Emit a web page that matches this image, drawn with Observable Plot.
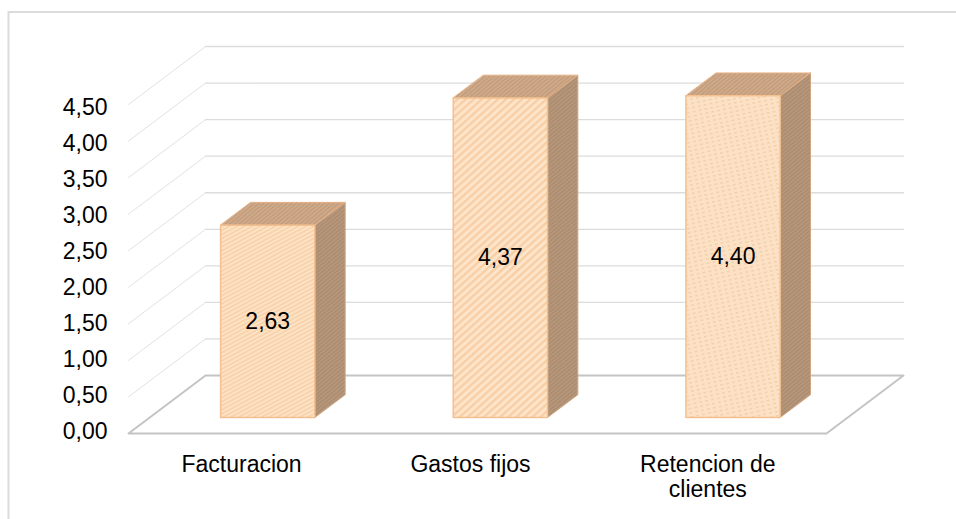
<!DOCTYPE html>
<html><head><meta charset="utf-8">
<script src="https://cdn.jsdelivr.net/npm/d3@7"></script>
<script src="https://cdn.jsdelivr.net/npm/@observablehq/plot@0.6"></script>
<style>html,body{margin:0;padding:0;background:#fff}svg{display:block}</style>
</head><body><div id="chart"></div>
<script>
const categories = ["Facturacion", "Gastos fijos", "Retencion de clientes"];
const categoryLines = [["Facturacion"], ["Gastos fijos"], ["Retencion de", "clientes"]];
const categorySlots = [0.486, 1.47, 2.49];
const values = [2.63, 4.37, 4.40];
const valueLabels = ["2,63", "4,37", "4,40"];
const ticks = [0, 0.5, 1, 1.5, 2, 2.5, 3, 3.5, 4, 4.5];
const tickLabels = ["0,00","0,50","1,00","1,50","2,00","2,50","3,00","3,50","4,00","4,50"];
const patternIds = ["pFine", "pWide", "pDots"];

// Oblique projection, in data units: x in category slots, y in value units
const slots = 3;
const skewX = 0.331, skewY = 0.793;        // shift of the full floor depth
const barWidth = 0.405, barOffset = 0.507;
const depthFront = 0.276, depthBack = 0.67;
const px = (u, d) => u + d * skewX;
const py = (v, d) => v + d * skewY;
const P = (u, v, d) => ({x: px(u, d), y: py(v, d)});

function poly(pts, o) { return Plot.line(pts, {x: "x", y: "y", curve: "linear-closed", ...o}); }

const defs = () => {
  const g = d3.create("svg:defs");
  const add = (id, w, h, rot, bg, draw) => {
    const p = g.append("pattern").attr("id", id).attr("patternUnits", "userSpaceOnUse")
      .attr("width", w).attr("height", h);
    if (rot) p.attr("patternTransform", `rotate(${rot})`);
    p.append("rect").attr("width", w).attr("height", h).attr("fill", bg);
    draw(p);
  };
  add("pFine", 6, 3.6, -28, "#fde3c6", p => p.append("rect").attr("width", 6).attr("height", 1.5).attr("fill", "#f8cfa6"));
  add("pWide", 6, 5.4, -42, "#fee4c9", p => p.append("rect").attr("width", 6).attr("height", 2.4).attr("fill", "#f8cea6"));
  add("pDots", 6, 4.2, -12, "#fde1c5", p => p.append("rect").attr("width", 3).attr("height", 1.4).attr("fill", "#f1cfac"));
  add("pSide", 4, 3, -40, "#b8977a", p => p.append("rect").attr("width", 4).attr("height", 1.2).attr("fill", "#a78a70"));
  add("pTop", 4, 3, -40, "#d2aa88", p => p.append("rect").attr("width", 4).attr("height", 1.2).attr("fill", "#bd9a7c"));
  return g.node();
};

const gridColor = "#dcdcdc", diagColor = "#e2e2e2", floorColor = "#c4c4c4", edge = "#f4c08f";
const marks = [defs];

// back wall gridlines and left wall diagonals
ticks.slice(1).forEach(t => {
  marks.push(Plot.line([P(0, t, 1), P(slots, t, 1)], {x: "x", y: "y", stroke: gridColor, strokeWidth: 1.3}));
  marks.push(Plot.line([P(0, t, 0), P(0, t, 1)], {x: "x", y: "y", stroke: diagColor, strokeWidth: 1}));
});
// floor
marks.push(poly([P(0, 0, 0), P(slots, 0, 0), P(slots, 0, 1), P(0, 0, 1)], {fill: "#fff", stroke: floorColor, strokeWidth: 2}));

// bars
values.forEach((v, i) => {
  const a = i + barOffset - barWidth / 2, b = a + barWidth;
  marks.push(poly([P(b, 0, depthFront), P(b, 0, depthBack), P(b, v, depthBack), P(b, v, depthFront)],
    {fill: "url(#pSide)", stroke: "#cfa682", strokeWidth: 1}));
  marks.push(poly([P(a, v, depthFront), P(b, v, depthFront), P(b, v, depthBack), P(a, v, depthBack)],
    {fill: "url(#pTop)", stroke: "#e6b085", strokeWidth: 1}));
  marks.push(poly([P(a, 0, depthFront), P(b, 0, depthFront), P(b, v, depthFront), P(a, v, depthFront)],
    {fill: `url(#${patternIds[i]})`, stroke: edge, strokeWidth: 1.5}));
});

const font = {fontFamily: "'Liberation Sans', Arial, sans-serif", fontSize: 23, fill: "#000"};
// value axis labels
marks.push(Plot.text(ticks, {x: () => -0.09, y: d => d * 0.985 + 0.03, text: (d, i) => tickLabels[i], textAnchor: "end", ...font}));
// value labels at mid-height of the front faces
marks.push(Plot.text(values, {x: (d, i) => px(i + barOffset, depthFront), y: d => py(d / 2, depthFront), text: (d, i) => valueLabels[i], ...font}));
// category labels
const catRows = categoryLines.flatMap((lines, i) => lines.map((t, k) => ({t, i, k})));
marks.push(Plot.text(catRows, {x: d => categorySlots[d.i], y: d => -0.43 - d.k * 0.335, text: "t", ...font}));

const plot = Plot.plot({
  width: 956, height: 519,
  marginTop: 0, marginRight: 0, marginBottom: 0, marginLeft: 0,
  style: {background: "#fff", overflow: "visible"},
  x: {type: "linear", domain: [0, slots], range: [128, 826], axis: null},
  y: {type: "linear", domain: [0, 4.5], range: [433, 104], axis: null},
  marks
});
document.getElementById("chart").append(plot);
d3.select(plot).insert("path", ":first-child")
  .attr("d", "M8.5,519V12H956").attr("fill", "none").attr("stroke", "#dcdcdc").attr("stroke-width", 2);
</script></body></html>
